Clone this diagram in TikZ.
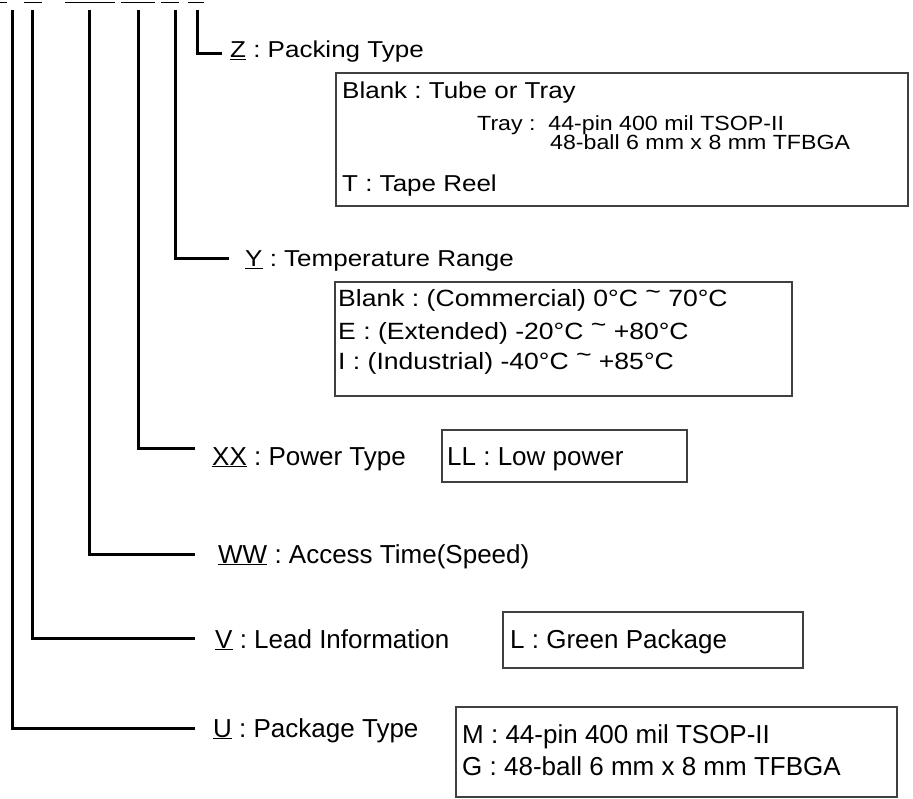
\documentclass[tikz,border=0pt]{standalone}
\usepackage{fontspec}
\setmainfont{Liberation Sans}
\newfontfamily\widefont[FakeStretch=1.13]{Liberation Sans}
\usetikzlibrary{positioning}
\frenchspacing
\newcommand{\tildeup}{\raisebox{.3em}{\char"7E}}

\begin{document}
\begin{tikzpicture}[
        x=1pt, y=-1pt,
        lead/.style={line width=3pt, line join=miter},
        infobox/.style={draw=black!75, line width=1.2pt, inner sep=0pt},
        label/.style={anchor=base west, inner sep=0pt, font=\fontsize{26}{30}\selectfont},
        boxtext/.style={anchor=base west, inner sep=0pt, font=\widefont\fontsize{23}{27}\selectfont},
        smalltext/.style={boxtext, font=\widefont\fontsize{20.5}{24}\selectfont},
        code/.style={anchor=base, inner sep=0pt, font=\fontsize{26}{30}\selectfont}
    ]
    \useasboundingbox (0,0) rectangle (913,799);

    % part number, cut at the top edge
    \foreach \t/\x/\n in {U/-2/cU, V/33/cV, WW/90/cW, XX/138/cX, Y/170/cY, Z/196/cZ}
        \node[code] (\n) at (\x,1) {\underline{\t}};

    % leads from the part number
    \foreach \n/\x/\y/\e in {u/12/728/195, v/32/638/195, w/89/554/195, xx/138/448/195, y/175/259/229, z/197/54/222} {
        \coordinate (\n top) at (\x,10);
        \coordinate (\n end) at (\e,\y);
        \draw[lead] (\n top) |- (\n end);
    }

    % Z : packing type
    \node[boxtext] (zLab) at (230,58) {\underline{Z} : Packing Type};
    \node[infobox, minimum width=572pt, minimum height=133pt] (packBox) at (622,139.5) {};
    \node[boxtext] (pack1) at (342,99) {Blank : Tube or Tray};
    \node[smalltext] (pack2) at (477,131) {Tray :\ \ 44-pin 400 mil TSOP-II};
    \node[smalltext] (pack3) at (550,150) {48-ball 6 mm x 8 mm TFBGA};
    \node[boxtext] (pack4) at (342,192) {T : Tape Reel};

    % Y : temperature range
    \node[boxtext] (yLab) at (245,267) {\underline{Y} : Temperature Range};
    \node[infobox, minimum width=457pt, minimum height=114pt] (tempBox) at (563.5,339) {};
    \node[boxtext, font=\widefont\fontsize{23.5}{27}\selectfont] (temp1) at (338,307) {Blank : (Commercial) 0°C \tildeup{} 70°C};
    \node[boxtext, font=\widefont\fontsize{23.5}{27}\selectfont] (temp2) at (338,340) {E : (Extended) -20°C \tildeup{} +80°C};
    \node[boxtext, font=\widefont\fontsize{23.5}{27}\selectfont] (temp3) at (338,370) {I : (Industrial) -40°C \tildeup{} +85°C};

    % XX : power type
    \node[label] (xxLab) at (212,465) {\underline{XX} : Power Type};
    \node[infobox, minimum width=245pt, minimum height=52pt] (powerBox) at (564.5,456) {};
    \node[label] (power1) at (447,465) {LL : Low power};

    % WW : access time
    \node[label] (wLab) at (218,563) {\underline{WW} : Access Time(Speed)};

    % V : lead information
    \node[label] (vLab) at (215,648) {\underline{V} : Lead Information};
    \node[infobox, minimum width=300pt, minimum height=56pt] (leadBox) at (653,640) {};
    \node[label] (lead1) at (510,648) {L : Green Package};

    % U : package type
    \node[label] (uLab) at (213,737) {\underline{U} : Package Type};
    \node[infobox, minimum width=441pt, minimum height=90pt] (pkgBox) at (676.5,752) {};
    \node[label] (pkg1) at (462,743) {M : 44-pin 400 mil TSOP-II};
    \node[label] (pkg2) at (462,775) {G : 48-ball 6 mm x 8 mm TFBGA};
\end{tikzpicture}
\end{document}
